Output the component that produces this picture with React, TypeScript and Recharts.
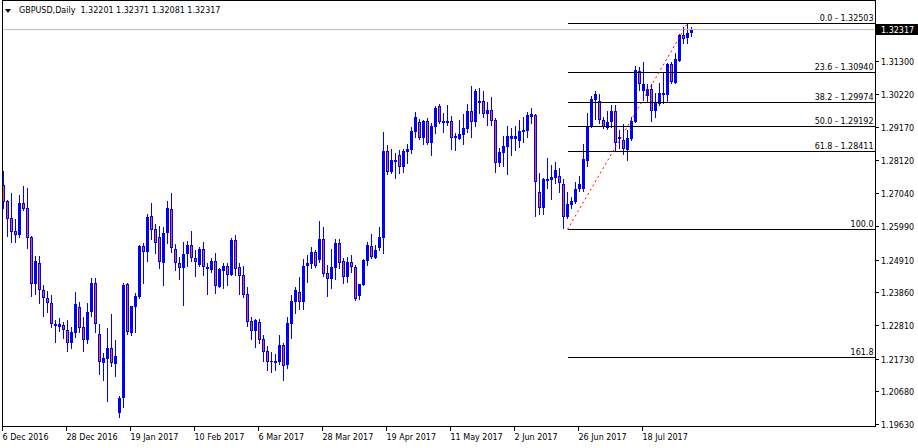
import { ComposedChart, Bar, XAxis, YAxis, ReferenceLine } from 'recharts';

// daily GBPUSD bars, 6 Dec 2016 onwards
const opens = [
  1.2731, 1.268, 1.2625, 1.2583, 1.2571, 1.2672, 1.2656, 1.2563, 1.2414, 1.2479,
  1.2392, 1.2367, 1.2352, 1.2279, 1.2276, 1.2282, 1.2265, 1.2224, 1.2256, 1.2339,
  1.2275, 1.2234, 1.2323, 1.2416, 1.2253, 1.216, 1.2173, 1.2207, 1.2157, 1.1997,
  1.2046, 1.2413, 1.2256, 1.234, 1.2372, 1.2535, 1.2517, 1.2631, 1.2589, 1.2563,
  1.2481, 1.2576, 1.2653, 1.2524, 1.2479, 1.2463, 1.2508, 1.2537, 1.2495, 1.2474,
  1.2525, 1.2467, 1.2458, 1.2487, 1.2404, 1.2456, 1.2471, 1.2443, 1.2554, 1.2467,
  1.2442, 1.2381, 1.2294, 1.2263, 1.229, 1.2235, 1.2197, 1.2161, 1.216, 1.2163,
  1.2217, 1.2153, 1.2284, 1.2356, 1.2386, 1.2356, 1.2472, 1.2478, 1.2516, 1.249,
  1.2557, 1.2447, 1.243, 1.2465, 1.2545, 1.2487, 1.2436, 1.2484, 1.2467, 1.2375,
  1.241, 1.2488, 1.2535, 1.2497, 1.2527, 1.2562, 1.284, 1.2774, 1.2806, 1.2827,
  1.279, 1.2838, 1.2843, 1.2902, 1.2932, 1.2883, 1.2936, 1.2865, 1.2918, 1.2986,
  1.2931, 1.2936, 1.2936, 1.2883, 1.2879, 1.2891, 1.2911, 1.2969, 1.2934, 1.2993,
  1.3001, 1.2958, 1.2972, 1.294, 1.2802, 1.2835, 1.2854, 1.2879, 1.2879, 1.2872,
  1.2902, 1.2904, 1.295, 1.2956, 1.2707, 1.2656, 1.2745, 1.2747, 1.2752, 1.276,
  1.2734, 1.2627, 1.2667, 1.2677, 1.2718, 1.2718, 1.2809, 1.292, 1.3004, 1.3,
  1.294, 1.2913, 1.2932, 1.2969, 1.2878, 1.2875, 1.2843, 1.2879, 1.2934, 1.3097,
  1.3033, 1.3018, 1.3039, 1.297, 1.299, 1.302, 1.302, 1.3119, 1.306, 1.313,
  1.3213, 1.3202, 1.32201,
];
const highs = [
  1.2777, 1.2683, 1.2706, 1.2622, 1.2699, 1.2728, 1.2722, 1.2567, 1.2503, 1.2503,
  1.241, 1.239, 1.2377, 1.2297, 1.2305, 1.229, 1.2297, 1.2276, 1.2386, 1.2356,
  1.2307, 1.2351, 1.2433, 1.2433, 1.2283, 1.2192, 1.2272, 1.2317, 1.2233, 1.2053,
  1.2417, 1.2417, 1.2343, 1.2383, 1.2538, 1.2545, 1.2638, 1.2672, 1.2606, 1.2599,
  1.2597, 1.2679, 1.2704, 1.2541, 1.2499, 1.2547, 1.2551, 1.2583, 1.2522, 1.2533,
  1.2548, 1.2481, 1.2495, 1.2511, 1.2463, 1.2479, 1.2479, 1.256, 1.257, 1.2479,
  1.2471, 1.2402, 1.2308, 1.23, 1.23, 1.2249, 1.2214, 1.2193, 1.2188, 1.2249,
  1.2222, 1.2308, 1.2377, 1.2402, 1.2434, 1.2493, 1.2506, 1.2533, 1.2522, 1.2615,
  1.2596, 1.2474, 1.2525, 1.2557, 1.2557, 1.2497, 1.2499, 1.2506, 1.2474, 1.2413,
  1.2493, 1.2549, 1.2573, 1.2538, 1.2597, 1.2902, 1.2859, 1.2847, 1.2833, 1.2843,
  1.2847, 1.2863, 1.2918, 1.2966, 1.2943, 1.294, 1.2947, 1.2931, 1.2985, 1.299,
  1.2963, 1.2988, 1.2954, 1.2899, 1.294, 1.2958, 1.2991, 1.3049, 1.3039, 1.3041,
  1.3033, 1.2998, 1.3013, 1.2947, 1.2849, 1.2888, 1.292, 1.2913, 1.292, 1.294,
  1.295, 1.2964, 1.2977, 1.2958, 1.2768, 1.2754, 1.2817, 1.2795, 1.2806, 1.2784,
  1.275, 1.2708, 1.2693, 1.2741, 1.2761, 1.2861, 1.2962, 1.3018, 1.3033, 1.3023,
  1.295, 1.2969, 1.2988, 1.2988, 1.2908, 1.2927, 1.2908, 1.295, 1.3114, 1.3111,
  1.3127, 1.3054, 1.3054, 1.3025, 1.3058, 1.309, 1.3122, 1.3125, 1.3154, 1.3215,
  1.3238, 1.32503, 1.32371,
];
const lows = [
  1.2656, 1.2567, 1.2549, 1.2549, 1.2565, 1.2651, 1.2529, 1.2375, 1.2381, 1.2353,
  1.2311, 1.2324, 1.2276, 1.2227, 1.2262, 1.224, 1.2199, 1.2208, 1.2244, 1.226,
  1.2198, 1.2222, 1.2311, 1.226, 1.2123, 1.2104, 1.2038, 1.215, 1.2118, 1.1987,
  1.2017, 1.2252, 1.2249, 1.226, 1.2367, 1.2417, 1.2488, 1.2556, 1.2513, 1.2465,
  1.241, 1.2544, 1.2517, 1.2458, 1.2428, 1.2346, 1.2472, 1.2488, 1.244, 1.2471,
  1.2442, 1.2382, 1.2452, 1.2385, 1.2404, 1.2399, 1.241, 1.2442, 1.2442, 1.238,
  1.2372, 1.2279, 1.2236, 1.2211, 1.2222, 1.2166, 1.2137, 1.2131, 1.2137, 1.2155,
  1.2104, 1.2144, 1.2238, 1.2321, 1.2333, 1.2333, 1.242, 1.2463, 1.2468, 1.2484,
  1.2438, 1.2375, 1.2401, 1.243, 1.2465, 1.2417, 1.242, 1.2452, 1.2361, 1.2364,
  1.241, 1.2474, 1.2495, 1.2495, 1.2522, 1.2513, 1.2766, 1.277, 1.2754, 1.277,
  1.2774, 1.2802, 1.2835, 1.2886, 1.2879, 1.2863, 1.2863, 1.2827, 1.2899, 1.2929,
  1.2902, 1.2924, 1.2847, 1.2843, 1.2879, 1.2863, 1.2902, 1.2886, 1.2921, 1.2963,
  1.295, 1.2924, 1.2924, 1.2774, 1.2792, 1.2792, 1.2766, 1.2827, 1.2843, 1.2854,
  1.287, 1.2884, 1.2929, 1.2632, 1.2637, 1.2637, 1.2722, 1.2686, 1.2736, 1.2708,
  1.2592, 1.2624, 1.2656, 1.2672, 1.2713, 1.2713, 1.2792, 1.2918, 1.2943, 1.293,
  1.2913, 1.2911, 1.2916, 1.2843, 1.2849, 1.283, 1.281, 1.2875, 1.2934, 1.3036,
  1.3004, 1.2998, 1.2937, 1.295, 1.2988, 1.2995, 1.2996, 1.306, 1.306, 1.3129,
  1.3186, 1.3186, 1.32081,
];
const closes = [
  1.2677, 1.2622, 1.2581, 1.2571, 1.2672, 1.2655, 1.2562, 1.2414, 1.2487, 1.2392,
  1.2367, 1.2353, 1.2283, 1.2285, 1.2284, 1.2264, 1.2222, 1.2259, 1.2349, 1.2272,
  1.2234, 1.2322, 1.2416, 1.2283, 1.2161, 1.2174, 1.2207, 1.2158, 1.2182, 1.2047,
  1.241, 1.226, 1.2342, 1.2374, 1.2535, 1.2517, 1.2627, 1.2586, 1.2545, 1.2484,
  1.2576, 1.2656, 1.2527, 1.2479, 1.2463, 1.2509, 1.2538, 1.2495, 1.2484, 1.2525,
  1.2467, 1.246, 1.2487, 1.2407, 1.246, 1.2471, 1.2443, 1.2554, 1.246, 1.244,
  1.2377, 1.2292, 1.2263, 1.2297, 1.2233, 1.2195, 1.2163, 1.2165, 1.2165, 1.2217,
  1.215, 1.2287, 1.2358, 1.2394, 1.2356, 1.2471, 1.248, 1.2516, 1.2472, 1.2557,
  1.2445, 1.243, 1.2467, 1.2545, 1.2481, 1.2436, 1.2484, 1.2467, 1.2365, 1.2413,
  1.249, 1.2538, 1.2499, 1.2522, 1.2563, 1.284, 1.2774, 1.2811, 1.2811, 1.279,
  1.284, 1.2847, 1.2904, 1.2948, 1.2883, 1.2936, 1.2865, 1.292, 1.2979, 1.2934,
  1.2936, 1.2931, 1.2883, 1.2888, 1.2894, 1.2913, 1.2969, 1.2934, 1.3033, 1.3001,
  1.2958, 1.2972, 1.2937, 1.2801, 1.2838, 1.2856, 1.2888, 1.2888, 1.2888, 1.2904,
  1.2908, 1.2956, 1.2958, 1.2741, 1.2656, 1.275, 1.275, 1.2758, 1.2779, 1.2736,
  1.2627, 1.267, 1.2679, 1.2718, 1.2734, 1.2814, 1.2921, 1.3007, 1.3023, 1.294,
  1.2916, 1.2934, 1.2969, 1.2865, 1.2884, 1.2846, 1.2881, 1.2936, 1.31, 1.3054,
  1.3054, 1.3039, 1.297, 1.2993, 1.3025, 1.3025, 1.3119, 1.3063, 1.3136, 1.3213,
  1.32, 1.3218, 1.32317,
];

const tickIndex = [0, 16, 32, 48, 64, 80, 96, 112, 128, 144, 160];
const tickDates = [
  '6 Dec 2016', '28 Dec 2016', '19 Jan 2017', '10 Feb 2017', '6 Mar 2017', '28 Mar 2017',
  '19 Apr 2017', '11 May 2017', '2 Jun 2017', '26 Jun 2017', '18 Jul 2017',
];
const priceTicks = [
  1.32317, 1.313, 1.3022, 1.2917, 1.2812, 1.2704, 1.2599, 1.2491, 1.2386, 1.2281, 1.2173, 1.2068, 1.1963,
];

const fibLevels = ['0.0', '23.6', '38.2', '50.0', '61.8', '100.0', '161.8'];
const fibPrices = [1.32503, 1.3094, 1.29974, 1.29192, 1.28411, 1.2588, 1.21787];
const fibWithPrice = [true, true, true, true, true, false, false];
const fibFrom = 141;
const fibTo = 171;

const SLOTS = 218;
const FONT = 'DejaVu Sans';
const BLUE = '#0000ff';
const lastClose = closes[closes.length - 1];

const data = Array.from({ length: SLOTS }, (_, i) =>
  i < opens.length
    ? { i, open: opens[i], high: highs[i], low: lows[i], close: closes[i] }
    : { i }
);

const Candle = (props: any) => {
  const { x, y, width, height, payload } = props;
  if (payload == null || payload.open == null || !Number.isFinite(y)) return null;
  const { open, high, low, close } = payload;
  const top = Math.min(y, y + height);
  const h = Math.abs(height);
  const k = high > low ? h / (high - low) : 0;
  const yO = top + (high - open) * k;
  const yC = top + (high - close) * k;
  const cx = Math.floor(x + width / 2) + 0.5;
  const bT = Math.round(Math.min(yO, yC));
  const bB = Math.round(Math.max(yO, yC));
  const bh = Math.max(bB - bT, 1);
  const bear = close < open;
  return (
    <g shapeRendering="crispEdges">
      <line x1={cx} x2={cx} y1={Math.round(top)} y2={Math.round(top + h) + 1} stroke={BLUE} />
      <rect x={cx - 1.5} y={bT} width={3} height={bh} fill={BLUE} />
      {bear && bh > 2 && <rect x={cx - 0.5} y={bT + 1} width={1} height={bh - 2} fill="#e8553a" />}
    </g>
  );
};

const DateTick = (props: any) => {
  const { x, y, payload } = props;
  const label = tickDates[tickIndex.indexOf(payload.value)];
  const px = Math.floor(x) - 0.5;
  return (
    <g>
      <line x1={px} x2={px} y1={y} y2={y + 4} stroke="#000" shapeRendering="crispEdges" />
      <text x={px} y={y + 13} fontSize={8} fontFamily={FONT} fill="#000">
        {label}
      </text>
    </g>
  );
};

const PriceTick = (props: any) => {
  const { x, y, payload } = props;
  const v = payload.value as number;
  const py = Math.round(y) + 0.5;
  if (v === lastClose) {
    return (
      <g>
        <rect x={x + 1} y={Math.round(y) - 5} width={42} height={11} fill="#000" />
        <text x={x + 6} y={py} dy={3} fontSize={8} fontFamily={FONT} fill="#fff">
          {v.toFixed(5)}
        </text>
      </g>
    );
  }
  return (
    <g>
      <line x1={x} x2={x + 4} y1={py} y2={py} stroke="#000" shapeRendering="crispEdges" />
      <text x={x + 6} y={py} dy={3} fontSize={8} fontFamily={FONT} fill="#000">
        {v.toFixed(5)}
      </text>
    </g>
  );
};

const fibShape = (label: string) => (p: any) => {
  const y = Math.round(p.y1) + 0.5;
  const x1 = Math.floor(p.x1) + 0.5;
  const x2 = p.x2 + 3.5;
  return (
    <g>
      <line x1={x1} x2={x2} y1={y} y2={y} stroke="#000" shapeRendering="crispEdges" />
      <text x={x2 - 1.5} y={y - 3} textAnchor="end" fontSize={8} fontFamily={FONT} fill="#000">
        {label}
      </text>
    </g>
  );
};

export default function App() {
  return (
    <div style={{ position: 'relative', width: 918, height: 448, background: '#fff' }}>
      <style>{'body{margin:0}'}</style>
      <ComposedChart
        width={918}
        height={448}
        data={data}
        margin={{ top: 0, right: 0, bottom: 0, left: 1.5 }}
        barCategoryGap={0}
      >
        <XAxis
          dataKey="i"
          type="category"
          height={21}
          ticks={tickIndex}
          interval={0}
          tickSize={0}
          tickMargin={0}
          axisLine={false}
          tickLine={false}
          padding={{ left: 0, right: 1.5 }}
          tick={<DateTick />}
        />
        <YAxis
          orientation="right"
          type="number"
          width={43}
          domain={[1.19534, 1.33252]}
          ticks={priceTicks}
          interval={0}
          tickSize={0}
          tickMargin={0}
          axisLine={false}
          tickLine={false}
          allowDataOverflow
          tick={<PriceTick />}
        />
        <ReferenceLine y={lastClose} stroke="#c0c0c0" shapeRendering="crispEdges" />
        {fibLevels.map((lvl, n) => (
          <ReferenceLine
            key={lvl}
            segment={[
              { x: fibFrom, y: fibPrices[n] },
              { x: SLOTS - 1, y: fibPrices[n] },
            ]}
            shape={fibShape(fibWithPrice[n] ? `${lvl} - ${fibPrices[n].toFixed(5)}` : lvl)}
          />
        ))}
        <ReferenceLine
          segment={[
            { x: fibFrom, y: fibPrices[5] },
            { x: fibTo, y: fibPrices[0] },
          ]}
          stroke="#ff0000"
          strokeDasharray="2 3"
        />
        <Bar
          dataKey={(d: any) => (d.open == null ? null : [d.low, d.high])}
          shape={<Candle />}
          isAnimationActive={false}
        />
      </ComposedChart>
      <div
        style={{
          position: 'absolute',
          left: 2,
          top: 0,
          width: 874,
          height: 427,
          border: '1px solid #000',
          boxSizing: 'border-box',
          pointerEvents: 'none',
        }}
      />
      <div
        style={{
          position: 'absolute',
          left: 5,
          top: 9,
          width: 0,
          height: 0,
          borderLeft: '3px solid transparent',
          borderRight: '3px solid transparent',
          borderTop: '4px solid #000',
        }}
      />
      <div
        style={{
          position: 'absolute',
          left: 19,
          top: 6,
          fontFamily: FONT,
          fontSize: 8,
          lineHeight: '10px',
          whiteSpace: 'pre',
          color: '#000',
        }}
      >
        {'GBPUSD,Daily  ' + [opens, highs, lows, closes].map((a) => a[a.length - 1].toFixed(5)).join(' ')}
      </div>
    </div>
  );
}
